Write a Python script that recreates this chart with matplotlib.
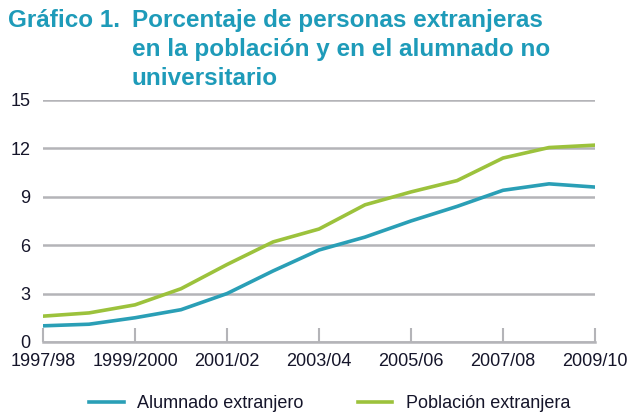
import numpy as np
import matplotlib.pyplot as plt

cursos = ['1997/98', '1998/99', '1999/2000', '2000/01', '2001/02', '2002/03', '2003/04',
          '2004/05', '2005/06', '2006/07', '2007/08', '2008/09', '2009/10']
alumnado = [1.0, 1.1, 1.5, 2.0, 3.0, 4.4, 5.7, 6.5, 7.5, 8.4, 9.4, 9.8, 9.6]
poblacion = [1.6, 1.8, 2.3, 3.3, 4.8, 6.2, 7.0, 8.5, 9.3, 10.0, 11.4, 12.05, 12.2]
y_ticks = [0, 3, 6, 9, 12, 15]

azul = '#2a9fb6'
verde = '#9cc23c'
titulo_color = '#1e9bb9'
texto = '#15152a'
gris = '#b4b4b8'

plt.rcParams['font.family'] = ['Liberation Sans', 'DejaVu Sans']

fig = plt.figure(figsize=(6.28, 4.13), dpi=100)
ax = fig.add_axes([0.0685, 0.172, 0.879, 0.586])

x = np.arange(len(cursos))
ax.plot(x, alumnado, color=azul, lw=2.6, label='Alumnado extranjero')
ax.plot(x, poblacion, color=verde, lw=2.6, label='Población extranjera')

ax.set_xlim(0, len(cursos) - 1)
ax.set_ylim(0, 15)
ax.set_yticks(y_ticks)
ax.set_xticks(x[::2])
ax.set_xticklabels(cursos[::2])
ax.yaxis.grid(True, color=gris, lw=1.8)
ax.set_axisbelow(True)
for s in ['left', 'right', 'top']:
    ax.spines[s].set_visible(False)
ax.spines['bottom'].set_color(gris)
ax.spines['bottom'].set_linewidth(1.8)
ax.tick_params(axis='x', direction='in', length=10, width=1.5, color=gris,
               labelsize=13, labelcolor=texto, pad=8)
ax.tick_params(axis='y', length=0, labelsize=13, labelcolor=texto, pad=9)

fig.text(0.013, 0.978, 'Gráfico 1.', color=titulo_color, fontsize=17.5,
         fontweight='bold', va='top')
fig.text(0.21, 0.978, 'Porcentaje de personas extranjeras\nen la población y en el alumnado no\nuniversitario',
         color=titulo_color, fontsize=17.5, fontweight='bold', va='top', linespacing=1.32)

leg = fig.legend(loc='lower center', bbox_to_anchor=(0.525, -0.038), ncol=2, frameon=False,
                 fontsize=13, handlelength=1.9, columnspacing=3.0, handletextpad=0.75)
for t in leg.get_texts():
    t.set_color(texto)

fig.savefig('out.png', dpi=100)
